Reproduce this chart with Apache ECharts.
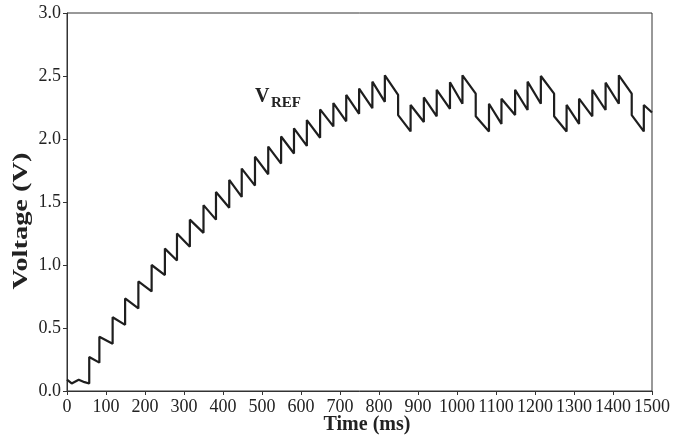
<!DOCTYPE html>
<html>
<head>
<meta charset="utf-8">
<script src="https://cdn.jsdelivr.net/npm/echarts@6/dist/echarts.min.js"></script>
<style>
html,body{margin:0;padding:0;background:#fff;}
#c{width:682px;height:438px;}
</style>
</head>
<body>
<div id="c"></div>
<script>
// Initial (pre-step) segment
const initTimes  = [0, 12, 30, 45, 57];
const initValues = [0.09, 0.06, 0.09, 0.07, 0.06];

// Times (ms) at which each step / reset happens
const jumpTimes = [57, 83, 117, 149, 183, 217, 251, 282, 315, 350, 382, 416, 448, 482, 516,
  549, 582, 615, 649, 683, 716, 749, 783, 815, 849, 881, 915, 948, 982, 1014, 1048, 1082,
  1114, 1149, 1181, 1215, 1249, 1281, 1313, 1347, 1381, 1415, 1448, 1479];

// Voltage right after each step (V)
const stepTops = [0.27, 0.43, 0.585, 0.735, 0.87, 1.0, 1.13, 1.25, 1.36, 1.475, 1.58, 1.675,
  1.765, 1.86, 1.94, 2.02, 2.085, 2.15, 2.235, 2.285, 2.35, 2.40, 2.455, 2.505, 2.19, 2.27,
  2.33, 2.39, 2.45, 2.505, 2.18, 2.28, 2.32, 2.39, 2.455, 2.50, 2.18, 2.27, 2.32, 2.39, 2.447,
  2.505, 2.19, 2.27];

// Voltage at the end of each step, just before the next step (V)
const stepEnds = [0.225, 0.375, 0.525, 0.655, 0.79, 0.92, 1.035, 1.145, 1.255, 1.36, 1.455,
  1.54, 1.63, 1.72, 1.805, 1.885, 1.945, 2.01, 2.10, 2.14, 2.20, 2.245, 2.295, 2.35, 2.06,
  2.135, 2.18, 2.24, 2.28, 2.36, 2.06, 2.12, 2.19, 2.23, 2.28, 2.36, 2.06, 2.12, 2.18, 2.23,
  2.28, 2.36, 2.06, 2.21];

const xMin = 0, xMax = 1500, xStep = 100;
const yMin = 0, yMax = 3, yStep = 0.5;

const data = [];
for (let i = 0; i < initTimes.length; i++) data.push([initTimes[i], initValues[i]]);
for (let i = 0; i < jumpTimes.length; i++) {
  data.push([jumpTimes[i], stepTops[i]]);
  const tEnd = i + 1 < jumpTimes.length ? jumpTimes[i + 1] : xMax;
  data.push([tEnd, stepEnds[i]]);
}

const serif = '"Liberation Serif", "DejaVu Serif", serif';
const chart = echarts.init(document.getElementById('c'), null, {renderer: 'canvas'});
chart.setOption({
  animation: false,
  backgroundColor: '#fff',
  grid: {left: 67, right: 30, top: 13, bottom: 47, show: true, borderColor: '#333', borderWidth: 1},
  xAxis: {
    type: 'value', min: xMin, max: xMax, interval: xStep,
    axisLine: {show: true, lineStyle: {color: '#333', width: 1}},
    axisTick: {show: true, inside: false, length: 4, lineStyle: {color: '#333'}},
    splitLine: {show: false},
    axisLabel: {color: '#222', fontFamily: serif, fontSize: 18, margin: 7,
      formatter: v => String(v)}
  },
  yAxis: {
    type: 'value', min: yMin, max: yMax, interval: yStep,
    axisLine: {show: true, lineStyle: {color: '#333', width: 1}},
    axisTick: {show: true, inside: false, length: 4, lineStyle: {color: '#333'}},
    splitLine: {show: false},
    axisLabel: {color: '#222', fontFamily: serif, fontSize: 18, margin: 6,
      formatter: v => v.toFixed(1)}
  },
  graphic: [
    {type: 'text', x: 367, y: 425, style: {text: 'Time (ms)', font: 'bold 20px ' + serif,
      fill: '#222', align: 'center', verticalAlign: 'middle'}},
    {type: 'text', x: 22, y: 221, rotation: Math.PI / 2, scaleX: 1.42,
      style: {text: 'Voltage (V)', font: 'bold 20px ' + serif, fill: '#222',
        align: 'center', verticalAlign: 'middle'}},
    {type: 'text', x: 255, y: 97, style: {text: 'V', font: 'bold 20px ' + serif, fill: '#222',
      align: 'left', verticalAlign: 'middle'}},
    {type: 'text', x: 271, y: 103, style: {text: 'REF', font: 'bold 15px ' + serif, fill: '#222',
      align: 'left', verticalAlign: 'middle'}}
  ],
  series: [{
    type: 'line', data: data, showSymbol: false, symbol: 'none',
    lineStyle: {color: '#1e1e1e', width: 2.2}
  }]
});
</script>
</body>
</html>
